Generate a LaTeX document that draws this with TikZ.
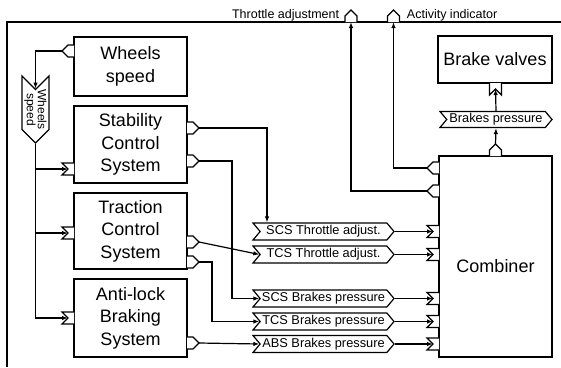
\documentclass[tikz,border=0pt]{standalone}
\usepackage{fontspec}
\setmainfont{Liberation Sans}
\usetikzlibrary{arrows.meta,shapes.symbols}

\tikzset{
  outport/.pic={\draw[fill=white] (0,-6)--(6,-6)--(12,0)--(6,6)--(0,6);
    \coordinate (-base) at (0,0); \coordinate (-tip) at (12,0);},
  inport/.pic={\draw[fill=white] (0,-6)--(-12,-6)--(-6,0)--(-12,6)--(0,6);
    \coordinate (-tip) at (-6,0);},
  block/.style={draw, fill=white, align=center, inner sep=0pt, minimum width=113pt,
    font=\fontsize{18}{22.5}\selectfont},
  dataelem/.style={signal, signal from=west, signal to=east, signal pointer angle=100,
    draw, fill=white, inner sep=0pt, minimum height=17pt, minimum width=141pt,
    font=\fontsize{12.8}{13}\selectfont},
  flow/.style={-{Latex[length=6pt,width=4.5pt]}},
}

\begin{document}
\begin{tikzpicture}[x=1pt,y=-1pt,line width=1.2pt]
\useasboundingbox (0,0) rectangle (561,367);
% enclosing system
\draw (561,22) -- (7,22) -- (7,367);
\pic[rotate=90] (thrport) at (351,22) {outport};
\pic[rotate=90] (actport) at (393.5,22) {outport};
\node[anchor=base east, font=\fontsize{12.5}{13}\selectfont] (thrlabel) at (343,18) {Throttle adjustment};
\node[anchor=base west, font=\fontsize{12.5}{13}\selectfont] (actlabel) at (403,18) {Activity indicator};

% components
\node[block, minimum height=59pt] (wheels) at (130.5,66.5) {Wheels\\speed};
\node[block, minimum height=77pt] (scs) at (130.5,144.5) {Stability\\Control\\System};
\node[block, minimum height=76pt] (tcs) at (130.5,231) {Traction\\Control\\System};
\node[block, minimum height=78pt] (abs) at (130.5,318) {Anti-lock\\Braking\\System};
\node[block, minimum width=114pt, minimum height=47pt] (valves) at (495,59.5) {Brake valves};
\node[block, minimum height=201pt,
  label={[yshift=-10pt, font=\fontsize{18}{22.5}\selectfont]center:Combiner}] (comb) at (495.5,256.5) {};

% ports
\pic[rotate=180] (wsout) at (74,51) {outport};
\pic (scsin) at (74,169) {inport};
\pic (tcsin) at (74,233) {inport};
\pic (absin) at (74,318) {inport};
\pic (scsout1) at (187,128) {outport};
\pic (scsout2) at (187,161) {outport};
\pic (tcsout1) at (187,242) {outport};
\pic (tcsout2) at (187,262) {outport};
\pic (absout) at (187,343) {outport};
\pic[rotate=180] (cact) at (439,168) {outport};
\pic[rotate=180] (cthr) at (439,191) {outport};
\pic (cin1) at (439,231.5) {inport};
\pic (cin2) at (439,254.5) {inport};
\pic (cin3) at (439,298.5) {inport};
\pic (cin4) at (439,321.5) {inport};
\pic (cin5) at (439,344) {inport};
\pic[rotate=90] (ctop) at (495.5,156) {outport};
\pic[rotate=90] (bvin) at (495.5,83) {inport};

% data
\node[dataelem, rotate=-90, minimum width=65pt, minimum height=27pt, signal pointer angle=90,
  align=center, font=\fontsize{12}{11}\selectfont] (wsdata) at (35.5,109.5) {Wheels\\speed};
\node[dataelem] (scsthr) at (323.5,231.5) {SCS Throttle adjust.};
\node[dataelem] (tcsthr) at (323.5,254.5) {TCS Throttle adjust.};
\node[dataelem] (scsbr) at (323.5,298.5) {SCS Brakes pressure};
\node[dataelem] (tcsbr) at (323.5,321.5) {TCS Brakes pressure};
\node[dataelem] (absbr) at (323.5,344) {ABS Brakes pressure};
\node[dataelem, minimum width=112pt, minimum height=16pt] (bpress) at (496,119.5) {Brakes pressure};

% connections
\draw[flow] (wsout-tip) -| (wsdata.west);
\draw[flow] (wsdata.east) |- (absin-tip);
\draw[flow] (wsdata.east |- scsin-tip) -- (scsin-tip);
\draw[flow] (wsdata.east |- tcsin-tip) -- (tcsin-tip);
\coordinate (thrdrop) at (267,0);
\draw[flow] (scsout1-tip) -| (thrdrop |- scsthr.north);
\draw[flow] (scsout2-tip) -- ++(33,0) |- (scsbr.west);
\draw[flow] (tcsout1-tip) -- (tcsthr.west);
\draw[flow] (tcsout2-tip) -- ++(13,0) |- (tcsbr.west);
\draw[flow] (absout-tip) -- (absbr.west);
\foreach \d/\p in {scsthr/cin1,tcsthr/cin2,scsbr/cin3,tcsbr/cin4,absbr/cin5}
  \draw[flow] (\d.east) -- (\p-tip);
\draw[flow] (cact-tip) -| (actport-base);
\draw[flow] (cthr-tip) -| (thrport-base);
\draw[flow] (ctop-tip) -- (bpress.south);
\draw[flow] (bpress.north) -- (bvin-tip);
\end{tikzpicture}
\end{document}
